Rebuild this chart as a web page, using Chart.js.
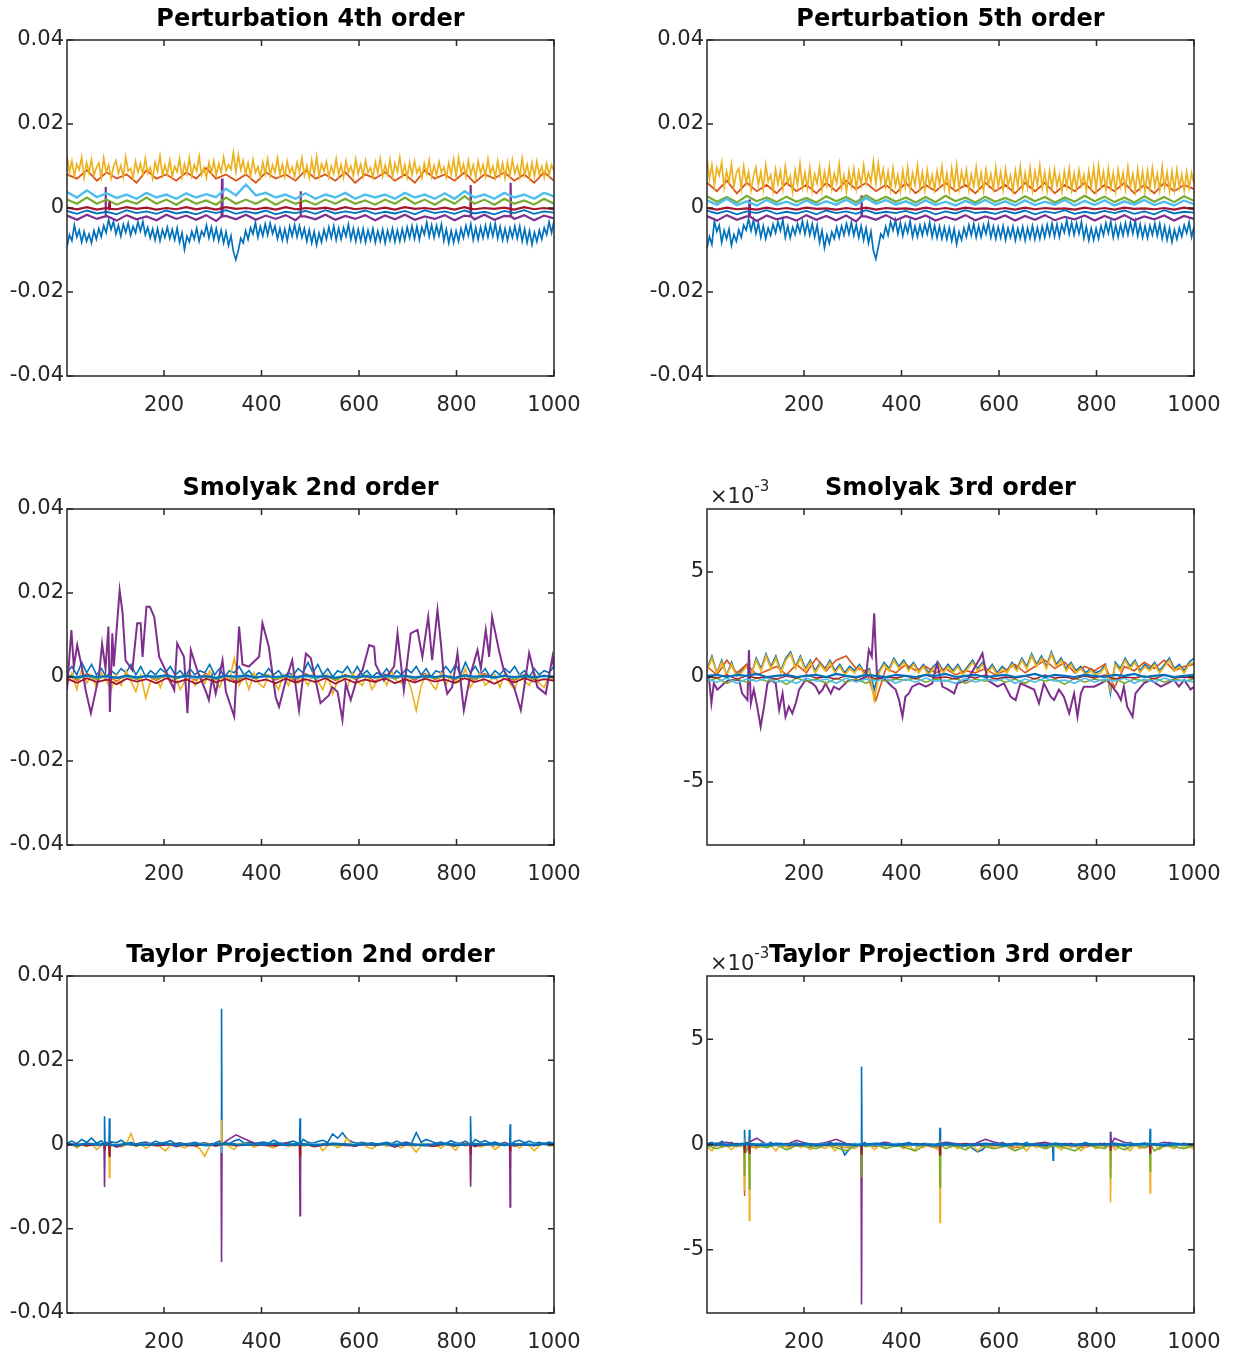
<!DOCTYPE html>
<html><head><meta charset="utf-8">
<script src="https://cdn.jsdelivr.net/npm/chart.js@4"></script>
<style>
html,body{margin:0;padding:0;background:#fff;overflow:hidden;width:1244px;height:1355px;position:relative}
canvas{position:absolute}
</style></head><body>
<script>
// ---- All series values below are in units of 1e-3 ----
const xTicks = [200, 400, 600, 800, 1000];
const yTicksWide = [-0.04, -0.02, 0, 0.02, 0.04];
const yTicksMilli = [-0.005, 0, 0.005];
const titles = ["Perturbation 4th order","Perturbation 5th order","Smolyak 2nd order","Smolyak 3rd order","Taylor Projection 2nd order","Taylor Projection 3rd order"];

// Perturbation 4th order
const p4Blue = [-9.2,-6.4,-7.8,-4.1,-6.9,-5.3,-8.1,-5.6,-7.9,-6.2, -8.3,-5.4,-7.4,-4.9,-6.8,-4.2,-5.9,-2.8,-5.1,-3.2, -6.2,-4.1,-6.7,-3.9,-5.8,-3.6,-6.5,-4.4,-5.9,-3.3, -5.5,-3.2,-6.4,-4.6,-7.1,-5.0,-7.6,-4.9,-7.8,-5.2, -7.0,-4.6,-7.3,-5.1,-7.6,-4.8,-8.2,-5.9,-9.9,-6.7, -8.1,-5.6,-7.4,-4.8,-7.9,-5.5,-6.6,-4.1,-7.1,-4.6, -7.5,-4.9,-7.8,-5.3,-8.3,-5.7,-8.9,-6.6,-10.4,-12.3, -10.1,-7.2,-8.3,-5.4,-7.5,-4.7,-6.2,-3.5,-7.0,-4.4, -6.6,-3.8,-6.4,-3.6,-6.1,-4.3,-7.3,-4.9,-7.6,-5.0, -7.8,-4.4,-6.7,-4.0,-6.9,-4.3,-7.0,-4.9,-7.9,-5.2, -8.3,-5.6,-8.8,-6.0,-8.1,-5.2,-7.4,-4.6,-7.1,-4.3, -7.6,-4.8,-7.4,-4.7,-6.7,-3.9,-7.5,-4.9,-7.9,-5.1, -7.8,-5.0,-8.1,-5.3,-7.6,-4.9,-8.2,-5.5,-7.9,-5.1, -8.3,-5.4,-7.7,-4.9,-8.0,-5.3,-7.9,-5.0,-7.6,-4.6, -7.1,-4.3,-7.3,-4.4,-7.5,-4.6,-6.3,-3.4,-6.8,-4.1, -7.0,-4.2,-6.6,-3.9,-7.8,-5.1,-8.3,-5.4,-8.2,-5.5, -7.9,-4.9,-7.1,-4.2,-6.6,-3.8,-7.6,-4.7,-7.5,-4.6, -7.1,-4.2,-6.9,-4.0,-6.7,-3.7,-7.2,-4.5,-7.6,-4.9, -7.7,-4.8,-7.0,-4.3,-7.2,-4.4,-7.9,-5.0,-8.2,-5.4, -8.7,-5.8,-8.0,-5.3,-7.4,-4.7,-6.3,-3.3,-5.9,-3.1];
const p4Orange = [8,7,9,6.5,8.5,7,8,6,9,7, 8,6.5,8.5,7,9.5,7,8,6.5,8,6, 8.5,7,8,6.5,9,7,8,6.5,8.5,6, 8,7,8.5,6.5,8,6,9,7,8,6.5, 8.5,6,8,7,8.5,6.5,8,6,8.5,6.5];
const p4Yellow = [12.5,8.5,11.2,7.6,10.4,9.1,12.1,7.2,10.8,8.4, 11.5,7.8,9.6,10.7,7.3,11.9,8.6,10.2,7.1,9.8, 11.3,8.2,10.1,7.4,12.2,8.8,9.4,7.2,11.1,8.5, 10.6,7.9,11.8,8.3,9.7,7.0,10.9,8.7,12.4,7.8, 10.2,8.1,11.4,7.5,9.9,8.6,11.7,7.3,10.5,8.2, 11.9,7.7,10.3,8.8,12.3,7.9,9.6,7.2,10.8,8.4, 11.2,7.8,10.6,8.5,12.1,8.9,10.3,9.2,13.2,8.6, 12.6,9.1,11.3,8.2,10.7,7.6,11.5,8.4,9.8,7.3, 10.9,8.1,11.6,7.7,10.2,8.5,12.0,7.9,10.4,7.4, 11.1,8.3,9.7,7.5,10.8,8.6,11.9,7.8,10.1,7.2, 11.4,8.0,12.2,7.6,10.5,8.7,11.0,7.4,9.9,8.2, 11.7,7.9,10.3,7.3,11.2,8.5,10.0,7.7,11.6,8.1, 10.4,7.5,11.3,8.4,9.6,7.2,10.9,8.3,11.8,7.6, 10.2,8.0,11.5,7.4,10.6,8.6,12.1,7.8,10.3,7.3, 10.8,7.9,11.2,8.3,9.7,7.1,10.6,8.2,11.4,7.5, 10.1,7.7,11.0,8.5,9.8,7.3,10.7,8.0,11.6,7.6, 12.0,8.4,10.5,7.5,11.3,7.9,10.2,7.2,11.1,8.3, 10.3,7.6,11.7,8.1,10.0,7.3,11.2,7.8,10.6,7.1, 10.9,7.7,11.5,8.2,10.1,7.4,11.8,7.9,10.4,7.2, 10.7,7.5,11.1,8.0,9.9,7.3,10.6,7.8,10.2,8.9];
const p4Purple = [-1.8,-2.8,-1.6,-2.6,-1.9,-3,-1.7,-2.7,-2,-2.9, -1.6,-2.6,-1.8,-2.8,-1.7,-3.1,-1.9,-2.7,-1.6,-2.8, -1.8,-2.6,-1.7,-2.9,-2,-2.7,-1.6,-2.8,-1.9,-2.6, -1.7,-2.9,-1.8,-2.7,-1.6,-2.8,-2,-2.6,-1.7,-2.9, -1.8,-2.7,-1.6,-2.8,-1.9,-2.6,-1.7,-2.9,-1.8,-2.5];
const p4PurpleSpikeX = [79,80,81, 318,319,320, 479,480,481, 828,829,830, 910,911,912];
const p4PurpleSpikeY = [-2,5,-2, -2,7,-2, -2,4,-2, -2,5.5,-2, -2,6,-2];
const p4Green = [2,1,2.5,1,2,0.8,1.8,1,2.5,1, 2,0.8,2.2,1,1.8,0.8,2.5,1,2,1, 2.2,0.8,2,1,1.8,0.8,2,1,2.2,1, 1.8,0.8,2,1,2.5,1,2,0.8,2.2,1, 2.8,1,2,0.8,2.2,1,1.8,0.8,2.2,1];
const p4LightBlue = [3.8,2.5,4.2,2.6,3.5,2.4,3.2,2.2,3.6,2.5, 3.2,2.2,3.5,2.5,3.3,2.6,4.6,3,5.6,3, 3.6,2.5,3.2,2.2,3.5,2.2,3.2,2.5,3.6,2.2, 3.2,2.5,3.2,2.2,3.6,2.5,3.2,2.2,3.5,2.2, 4,2.5,3.2,2.2,3.6,2.5,3.2,2.2,3.6,2.8];
const p4DarkRed = [0.1,-0.3,0.2,-0.4,0,-0.3,0.2,-0.2,0.1,-0.4, 0,-0.3,0.2,-0.3,0.1,-0.4,0.2,-0.2,0,-0.3, 0.1,-0.4,0.2,-0.3,0,-0.2,0.1,-0.4,0.2,-0.3, 0,-0.3,0.1,-0.4,0.2,-0.2,0,-0.3,0.1,-0.4, 0.2,-0.3,0,-0.2,0.1,-0.4,0.2,-0.3,0,-0.3];
const p4DarkRedSpikeX = [87,88,89, 479,480,481, 828,829,830];
const p4DarkRedSpikeY = [-0.2,1.5,-0.2, -0.2,1.5,-0.2, -0.2,1.2,-0.2];
const p4Blue8 = [-0.7,-1.4,-0.6,-1.3,-0.9,-1.5,-0.5,-1.2,-0.8,-1.4, -0.6,-1.3,-0.9,-1.5,-0.7,-1.2,-0.5,-1.4,-0.8,-1.3, -0.6,-1.5,-0.9,-1.2,-0.7,-1.4,-0.5,-1.3,-0.8,-1.2, -0.6,-1.4,-0.9,-1.3,-0.7,-1.5,-0.5,-1.2,-0.8,-1.4, -0.6,-1.3,-0.9,-1.5,-0.7,-1.2,-0.5,-1.4,-0.8,-1.1];

// Perturbation 5th order
const p5Blue = [-9.6,-6.8,-8.7,-3.2,-5.6,-4.1,-8.2,-5.3,-7.3,-5.0, -8.9,-6.3,-7.9,-5.2,-7.0,-4.1,-5.3,-2.6,-5.4,-2.9, -6.1,-3.6,-7.0,-4.3,-7.3,-4.8,-6.5,-3.9,-5.9,-3.3, -5.4,-2.8,-7.0,-4.3,-7.1,-4.6,-6.3,-3.8,-5.8,-3.1, -6.2,-3.5,-6.4,-3.8,-6.9,-4.1,-8.2,-5.4,-9.5,-6.4, -8.4,-5.7,-7.3,-4.6,-7.0,-4.3,-6.4,-3.7,-6.2,-3.4, -6.5,-4.0,-7.0,-4.3,-7.6,-4.8,-8.3,-5.6,-10.2,-12.1, -9.3,-6.2,-7.1,-4.4,-6.5,-3.3,-5.3,-2.9,-6.1,-3.5, -6.6,-3.9,-5.9,-3.1,-6.9,-4.3,-6.8,-4.1,-6.5,-3.9, -6.2,-3.4,-6.9,-4.2,-7.1,-4.4,-7.3,-4.6,-7.4,-4.7, -7.8,-5.0,-8.6,-5.7,-7.6,-4.8,-6.9,-4.1,-6.5,-3.8, -7.0,-4.3,-6.9,-4.1,-6.2,-3.5,-7.0,-4.4,-7.3,-4.5, -7.1,-4.3,-7.6,-4.8,-7.0,-4.4,-7.7,-4.9,-7.2,-4.5, -7.7,-4.8,-7.2,-4.3,-7.4,-4.7,-7.3,-4.4,-7.0,-4.0, -6.6,-3.7,-6.8,-3.9,-6.9,-4.0,-5.8,-2.9,-6.2,-3.5, -6.4,-3.6,-6.1,-3.3,-7.2,-4.5,-7.7,-4.8,-7.6,-4.9, -7.3,-4.3,-6.5,-3.6,-6.0,-3.2,-7.0,-4.1,-6.9,-4.0, -6.5,-3.6,-6.3,-3.4,-6.1,-3.1,-6.6,-3.9,-7.0,-4.3, -7.1,-4.2,-6.4,-3.7,-6.6,-3.8,-7.3,-4.4,-7.6,-4.8, -8.1,-5.2,-7.4,-4.7,-6.8,-4.1,-6.0,-3.4,-6.9,-4.5];
const p5Orange = [6,4,6.5,3.5,6,4,5.5,3.5,6,4, 5.5,3.5,6,4,6.5,4.5,6,4,5.5,3.5, 6,3.5,5.5,4,6,4,5.5,3.5,6,4, 5.5,3.5,6,4,6,3.5,5.5,4,6,3.5, 5.5,4,6,3.5,5.5,3.5,6,4,5.5,4.5];
const p5Yellow = [11.8,6.9,10.3,5.4,9.6,7.8,10.9,4.9,8.7,6.2, 10.4,5.1,8.3,9.4,4.6,9.9,6.0,8.5,4.2,7.6, 9.7,5.5,8.6,4.4,10.3,6.3,7.9,4.1,9.2,5.7, 8.8,4.5,9.9,5.9,7.6,3.8,8.9,5.6,10.5,5.0, 8.4,4.7,9.6,4.2,8.1,5.8,9.8,4.3,8.6,5.4, 9.9,4.6,8.2,5.9,10.4,4.9,7.8,3.9,8.8,5.3, 9.4,4.6,8.7,5.5,10.2,5.9,8.4,6.2,11.1,5.8, 10.6,6.1,9.2,5.1,8.7,4.4,9.5,5.3,7.9,4.0, 8.9,5.0,9.6,4.5,8.3,5.4,10.1,4.8,8.5,4.2, 9.1,5.2,7.8,4.3,8.8,5.5,9.9,4.7,8.2,4.0, 9.4,4.9,10.2,4.5,8.6,5.6,9.0,4.2,8.0,5.1, 9.7,4.8,8.4,4.1,9.2,5.4,8.1,4.5,9.6,5.0, 8.5,4.3,9.3,5.3,7.7,4.0,8.9,5.2,9.8,4.4, 8.3,4.9,9.5,4.2,8.7,5.5,10.1,4.7,8.4,4.1, 8.8,4.8,9.2,5.2,7.8,3.9,8.7,5.1,9.4,4.3, 8.2,4.6,9.0,5.4,7.9,4.1,8.8,4.9,9.6,4.4, 10.0,5.3,8.6,4.3,9.3,4.8,8.3,4.0,9.1,5.2, 8.4,4.4,9.7,5.0,8.1,4.1,9.2,4.7,8.7,3.9, 8.9,4.6,9.5,5.1,8.2,4.2,9.8,4.8,8.5,4.0, 8.7,4.3,9.1,4.9,8.0,4.1,8.6,4.7,8.3,5.8];
const p5Purple = [-1.9,-3,-1.7,-2.8,-2,-3.1,-1.8,-2.7,-2.1,-3, -1.7,-2.8,-1.9,-2.9,-1.8,-3.2,-2,-2.8,-1.7,-2.9, -1.9,-2.7,-1.8,-3,-2.1,-2.8,-1.7,-2.9,-2,-2.7, -1.8,-3,-1.9,-2.8,-1.7,-2.9,-2.1,-2.7,-1.8,-3, -1.9,-2.8,-1.7,-2.9,-2,-2.7,-1.8,-3,-1.9,-2.6];
const p5PurpleSpikeX = [87,88,89, 317,318,319];
const p5PurpleSpikeY = [-2,2,-2, -2,3,-2];
const p5Green = [2.8,1.5,2.6,1.3,2.9,1.6,2.5,1.4,2.7,1.5, 2.4,1.3,2.8,1.6,2.6,1.4,3,1.6,2.7,1.5, 2.5,1.3,2.6,1.4,2.9,1.6,2.5,1.3,2.7,1.5, 2.4,1.4,2.8,1.6,2.6,1.3,2.5,1.5,2.9,1.6, 2.7,1.4,2.5,1.3,2.8,1.5,2.6,1.4,2.8,1.7];
const p5LightBlue = [1.8,0.8,2.2,0.7,1.6,0.6,1.9,0.8,1.5,0.6, 1.8,0.7,1.6,0.8,2,0.7,2.4,1,1.9,0.8, 1.6,0.6,1.8,0.7,1.5,0.6,1.7,0.8,1.9,0.7, 1.6,0.6,1.8,0.7,1.5,0.8,1.9,0.6,1.7,0.7, 1.8,0.6,1.6,0.8,1.9,0.7,1.5,0.6,1.8,0.9];
const p5DarkRed = [0,-0.4,0.1,-0.3,-0.1,-0.4,0.1,-0.3,0,-0.4, 0.1,-0.2,-0.1,-0.4,0,-0.3,0.1,-0.4,0,-0.2, -0.1,-0.4,0.1,-0.3,0,-0.4,0.1,-0.2,-0.1,-0.3, 0,-0.4,0.1,-0.3,0,-0.2,-0.1,-0.4,0.1,-0.3, 0,-0.4,0.1,-0.2,-0.1,-0.3,0,-0.4,0.1,-0.3];
const p5Blue8 = [-0.6,-1.3,-0.7,-1.5,-0.8,-1.2,-0.5,-1.4,-0.9,-1.3, -0.7,-1.5,-0.6,-1.2,-0.8,-1.4,-0.5,-1.3,-0.9,-1.2, -0.7,-1.4,-0.6,-1.5,-0.8,-1.3,-0.5,-1.2,-0.9,-1.4, -0.7,-1.3,-0.6,-1.5,-0.8,-1.2,-0.5,-1.4,-0.9,-1.3, -0.7,-1.2,-0.6,-1.4,-0.8,-1.5,-0.5,-1.3,-0.9,-1.1];

// Smolyak 2nd order
const s2Blue = [1,2.5,0.5,3.5,1,3,0.5,2,0,1.5, 0.5,2,1,3,0.5,2.5,0,1.5,0.5,2, 1,2.5,0.5,1.5,0,2,0.5,1.5,1,3, 0.5,2,0,1.5,1,2.5,0.5,1.5,0,1, 0.5,2,0.5,1.5,0,1,0.5,2,1,3.5, 1,3,0.5,2,0,1.5,1,2.5,0.5,2.5, 0.5,1.5,0,1,0.5,2,0,1.5,0.5,2, 1,2.5,0.5,2,0,1.5,1,2.5,1,3, 0.5,3.5,1,2.5,0.5,2,0,1.5,0.5,2, 1,2.5,0.5,1.5,0,2,0.5,1.5,1,2.5];
const s2Orange = [0.5,-0.8,0.8,-0.5,0.3,-1,0.6,-0.6,0.4,-0.9, 0.7,-0.4,0.2,-0.8,0.9,-0.6,0.3,-1.1,0.5,-0.5, 0.6,-0.7,0.2,-0.9,0.8,-0.4,0.4,-0.8,0.6,-0.6, 0.3,-1,0.7,-0.5,0.4,-0.8,0.9,-0.6,0.2,-0.7, 0.5,-0.9,0.8,-0.4,0.3,-0.8,0.6,-0.6,0.4,-0.5];
const s2Yellow = [-2,1,-3,2,-1.5,0.5,-2.5,1,-1,-3, 0.5,-2,1.5,-1,-3.5,0.5,-5,-1,0,-2.5, 1,-1.5,0.5,-3,-1,1,-2,0.5,-1.5,1.5, -1,-2.5,0.5,-1,4.5,-2,0.5,-3,1,-1.5, -2.5,0.5,-1,-3,0.5,-2,1,-1.5,0,-2, 1,-1,-3,0.5,-4,-1,0.5,-2.5,1,-1, -2,0.5,-3,-1,0.5,-2,1.5,-1,-1.5,0.5, -3,-8,-2,0.5,-1.5,-3,1,-2,0.5,-1.5, -1,2,-2.5,-0.5,1,-2,-1,0.5,-2.5,1, -1.5,-3,0.5,-1,-2,1,-1.5,-2.5,0.5,-1];
const s2PurpleX = [1,10,15,22,32,39,50,60,67,73,80,86,89,94,97,109,115,121,135,145,152,156,164,171,180,190,203,221,227,241,248,255,268,286,292,299,306,320,327,344,354,361,374,395,402,415,429,436,450,463,477,491,501,521,538,545,556,566,573,583,597,607,621,631,634,651,672,679,692,706,720,730,742,750,761,768,774,781,791,802,815,829,843,850,860,867,873,887,897,918,932,949,966,983,997,1000];
const s2PurpleY = [-3.1,11.2,2.5,7.6,2,-3,-8.6,-3.3,0.8,7.9,2,12,-8.3,10.4,2.5,20.7,15.2,4,1.6,12.8,12.8,4.8,16.7,16.7,14.3,4.8,1.6,-3.1,8,4.8,-8.6,6.4,1.6,-3.5,-5.5,0,-4,4,-3.5,-9.4,12,3,2.5,4.8,12.8,7.2,-4.8,-7.1,-0.8,4,-7.9,5.6,4.5,-6.2,-4.4,-2.4,-3.5,-10.2,-1.6,-5.5,0,1.6,7.6,7.2,3,-0.8,2.5,10.4,-3.1,10.4,11.2,4.8,14.3,4,16,8,0,-4,-2.4,5.7,-7.9,0.8,6.4,2,11.2,4.8,14.3,6.4,1.6,-2.4,-7.9,5.7,-2.4,-4,4.8,2];
const s2Green = [0.3,-0.4,0.2,-0.6,0.4,-0.3,0.1,-0.5,0.3,-0.4, 0.2,-0.3,0.5,-0.2,0.1,-0.6,0.3,-0.4,0.2,-0.3, 0.4,-0.5,0.1,-0.3,0.3,-0.4,0.2,-0.6,0.1,-0.3, 0.4,-0.2,0.2,-0.5,0.3,-0.4,0.1,-0.3,0.2,-0.5, 0.3,-0.4,0.2,-0.3,0.4,-0.5,0.1,-0.4,0.3,-0.2];
const s2LightBlue = [0.2,-0.2,0.3,-0.1,0.2,-0.3,0.1,-0.2,0.3,-0.1, 0.2,-0.2,0.1,-0.3,0.2,-0.1,0.3,-0.2,0.1,-0.2, 0.2,-0.1,0.3,-0.2,0.1,-0.3,0.2,-0.1,0.2,-0.2, 0.3,-0.1,0.1,-0.2,0.2,-0.3,0.1,-0.1,0.3,-0.2, 0.2,-0.1,0.1,-0.3,0.2,-0.2,0.3,-0.1,0.1,-0.2];
const s2DarkRed = [-0.4,-1.4,-0.3,-1.2,-0.6,-1.7,-0.4,-1.1,-0.5,-1.5, -0.3,-1.3,-0.6,-1.6,-0.4,-1.2,-0.5,-1.4,-0.3,-1.1, -0.6,-1.5,-0.4,-1.3,-0.5,-1.2,-0.3,-1.6,-0.4,-1.4, -0.6,-1.2,-0.3,-1.5,-0.5,-1.3,-0.4,-1.1,-0.6,-1.4, -0.3,-1.2,-0.5,-1.6,-0.4,-1.3,-0.3,-1.1,-0.5,-0.9];
const s2Blue8 = [0.3,-0.1,0.4,0,0.2,-0.2,0.3,-0.1,0.2,0.1, 0.4,-0.1,0.3,0,0.2,-0.2,0.3,0.1,0.4,-0.1, 0.2,0,0.3,-0.1,0.4,0.1,0.2,-0.2,0.3,0, 0.2,-0.1,0.4,0.1,0.3,-0.1,0.2,0,0.3,-0.2, 0.4,0.1,0.2,-0.1,0.3,0,0.2,-0.1,0.3,0.1];

// Smolyak 3rd order
const s3Blue = [0.4,1,0.2,0.8,0.1,0.7,0.05,0.3,0.6,0.1, 0.9,0.4,1.1,0.5,1,0.3,0.9,1.2,0.5,1, 0.4,0.8,0.3,0.7,0.4,0.8,0.3,0.6,0.2,0.5, 0.3,0.6,0.2,0.4,-0.6,0.3,0.7,0.4,0.9,0.5, 0.8,0.4,0.7,0.3,0.6,0.2,0.5,0.7,0.3,0.6, 0.3,0.6,0.2,0.5,0.8,0.4,0.7,0.3,0.6,0.2, 0.5,0.3,0.7,0.4,0.9,0.5,1.1,0.6,1,0.5, 1.2,0.6,0.9,0.4,0.7,0.3,0.5,0.2,0.4,0.2, 0.3,0.6,-0.8,0.7,0.4,0.9,0.5,0.8,0.3,0.6, 0.4,0.7,0.3,0.6,0.9,0.4,0.6,0.3,0.7,0.9];
const s3Orange = [0.5,0.1,0.8,0.2,0.6,0.1,0.3,0.5,0.1,0.6, 0.2,0.9,0.3,0.8,1,0.4,0.3,-1.1,0.4,0.2, 0.6,0.3,0.5,0.2,0.4,0.1,0.3,0.2,0.4,0.1, 0.3,0.6,0.2,0.5,0.8,0.4,0.7,0.2,0.5,0.3, 0.6,-0.5,0.5,0.3,0.7,0.4,0.8,0.3,0.5,0.6];
const s3Yellow = [0.3,0.9,0.2,0.7,0.1,0.6,0.05,0.2,0.5,0.1, 0.8,0.3,1,0.4,0.9,0.2,0.8,1.1,0.4,0.9, 0.3,0.7,0.2,0.6,0.3,0.7,0.2,0.5,0.1,0.4, 0.2,0.5,0.1,0.3,-1.1,0.2,0.6,0.3,0.8,0.4, 0.7,0.3,0.6,0.2,0.5,0.1,0.4,0.6,0.2,0.5, 0.2,0.5,0.1,0.4,0.7,0.3,0.6,0.2,0.5,0.1, 0.4,0.2,0.6,0.3,0.8,0.4,1,0.5,0.9,0.4, 1.1,0.5,0.8,0.3,0.6,0.2,0.4,0.1,0.3,0.1, 0.2,0.5,-0.6,0.6,0.3,0.8,0.4,0.7,0.2,0.5, 0.3,0.6,0.2,0.5,0.8,0.3,0.5,0.2,0.6,0.7];
const s3PurpleX = [1,5,10,15,22,29,36,46,67,73,84,87,91,97,104,111,118,125,132,142,149,156,162,169,176,183,190,203,217,224,231,238,244,255,261,272,285,292,313,327,333,339,344,347,350,367,381,388,395,402,408,415,422,436,450,463,473,484,496,508,515,535,559,566,576,597,610,624,634,644,672,682,692,706,713,723,733,744,754,761,768,774,795,809,822,843,850,856,863,874,880,897,911,932,945,959,969,980,993,1000];
const s3PurpleY = [0,0,-1.25,-0.3,-0.6,-0.46,-0.3,-0.14,-0.14,-0.78,-1.1,1.29,-1.25,-0.6,-1.41,-2.37,-1.41,-0.3,-0.14,-0.3,-1.57,-0.78,-1.89,-1.41,-1.73,-1.25,-0.6,-0.14,-0.3,-0.46,-0.78,-0.6,-0.3,-0.78,-0.46,-0.6,-0.3,-0.14,-0.14,0,1.29,0.97,3.03,1.29,0,-0.14,-0.46,-0.6,-1.1,-1.89,-0.94,-0.78,-0.46,-0.3,-0.46,-0.3,0.65,-0.46,-0.6,-0.78,-0.3,-0.14,0.81,1.13,-0.14,-0.46,-0.3,-0.94,-1.1,-0.3,-0.6,-1.25,-0.3,-0.94,-1.1,-0.6,-0.94,-1.73,-0.78,-1.89,-0.78,-0.46,-0.46,-0.3,-0.14,-0.78,-1.1,-0.46,-1.41,-1.89,-0.78,-0.3,-0.14,-0.46,-0.3,-0.14,-0.46,-0.14,-0.6,-0.46];
const s3Green = [-0.2,-0.05,-0.3,-0.1,-0.25,-0.05,-0.2,-0.1,-0.35,-0.05, -0.2,-0.1,-0.3,-0.05,-0.25,-0.1,-0.3,-0.05,-0.2,-0.1, -0.15,-0.05,-0.25,-0.1,-0.2,-0.05,-0.3,-0.1,-0.2,-0.05, -0.25,-0.1,-0.3,-0.05,-0.2,-0.1,-0.35,-0.05,-0.25,-0.1, -0.2,-0.05,-0.3,-0.1,-0.2,-0.05,-0.25,-0.1,-0.2,-0.1];
const s3LightBlue = [-0.1,-0.25,-0.05,-0.3,-0.1,-0.2,-0.05,-0.25,-0.15,-0.3, -0.05,-0.2,-0.1,-0.3,-0.05,-0.25,-0.1,-0.2,-0.05,-0.3, -0.1,-0.25,-0.05,-0.2,-0.15,-0.3,-0.05,-0.25,-0.1,-0.2, -0.05,-0.3,-0.1,-0.25,-0.05,-0.2,-0.15,-0.3,-0.05,-0.25, -0.1,-0.2,-0.05,-0.3,-0.1,-0.25,-0.05,-0.2,-0.15,-0.25];
const s3DarkRed = [0.05,-0.05,0.1,-0.1,0.05,-0.05,0,-0.1,0.05,-0.05, 0.1,-0.05,0,-0.1,0.05,-0.05,0.1,-0.1,0,-0.05, 0.05,-0.1,0.1,-0.05,0,-0.1,0.05,-0.05,0.1,-0.1, 0,-0.05,0.05,-0.1,0.1,-0.05,0,-0.1,0.05,-0.05, 0.1,-0.1,0,-0.05,0.05,-0.1,0.1,-0.05,0,-0.05];
const s3Blue8 = [0.05,0.1,0,0.1,0.05,0.15,0,0.05,0.1,0, 0.05,0.1,0,0.15,0.05,0,0.1,0.05,0,0.1, 0.05,0,0.1,0.05,0.15,0,0.05,0.1,0,0.05, 0.1,0,0.05,0.15,0,0.1,0.05,0,0.1,0.05, 0,0.1,0.05,0.15,0,0.05,0.1,0,0.05,0.1];

// Taylor Projection 2nd order
const t2Blue = [0.3,0.8,0.2,1.2,0.5,1.5,0.3,0.9,0.2,0.6, 0.4,1,0.2,0.5,0.1,0.4,0.6,0.2,0.8,0.3, 0.5,0.9,0.2,0.4,0.1,0.3,0.5,0.2,0.4,0.1, 0.3,0.8,0.4,0.2,0.9,1.2,0.3,0.5,0.2,0.4, 0.6,0.3,1,0.4,0.2,0.5,0.8,0.3,1.2,0.5, 0.3,0.7,1,0.5,2.5,1.5,2.8,1.2,0.6,0.3, 0.5,0.2,0.4,0.1,0.3,0.5,0.2,0.8,0.3,0.6, 0.2,2.8,0.5,1.2,0.8,0.3,0.6,0.2,0.9,0.4, 0.3,0.8,0.4,1.2,0.5,0.9,0.3,0.6,0.2,0.5, 0.3,0.7,1,0.4,0.8,0.3,0.5,0.2,0.6,0.3];
const t2BlueSpikeX = [77,78,79, 87,88,89, 317,318,319, 478,479,480, 828,829,830, 909,910,911];
const t2BlueSpikeY = [0,6.7,0, 0,6.2,0, 0,32.2,0, 0,6.2,0, 0,6.7,0, 0,4.8,0];
const t2Orange = [0.1,-0.2,0.2,-0.1,0,-0.3,0.1,-0.2,0.2,-0.1, 0,-0.2,0.1,-0.3,0.2,-0.1,0,-0.2,0.1,-0.1, 0.2,-0.3,0,-0.1,0.1,-0.2,0.2,-0.1,0,-0.3, 0.1,-0.2,0.2,-0.1,0,-0.2,0.1,-0.3,0.2,-0.1, 0,-0.2,0.1,-0.1,0.2,-0.3,0,-0.2,0.1,-0.1];
const t2Yellow = [-0.3,0.2,-0.8,0,-0.5,0.3,-1.2,-0.2,0.1,-0.4, 0.2,-0.6,-0.1,2.6,-0.5,0.1,-0.9,-0.2,0.3,-0.6, -1.5,-0.2,0.1,-0.4,-0.8,0.2,-0.3,-1,-2.8,-0.4, 0.1,-0.2,0.3,-0.5,-1.2,0.2,-0.3,0.1,-0.6,-0.2, 0.1,-0.4,-0.8,-0.1,0.2,-0.5,-0.2,0.1,-0.4,-0.1, -0.6,0.2,-1.5,-0.3,0.4,-0.8,-0.2,1.5,-0.4,-0.1, 0.2,-0.6,-1,-0.2,0.1,-0.5,0.3,-0.3,-0.8,0.1, -0.4,-1.8,-0.2,0.2,-0.5,-0.1,-0.9,0.1,-0.3,-1.4, 0.2,-0.4,-0.1,0.3,-0.6,-0.2,0.1,-1.2,-0.3,0.2, -0.5,-0.1,-0.8,0.1,-0.3,-1.5,-0.2,0.3,-0.4,-0.1];
const t2YellowSpikeX = [87,88,89, 317,318,319, 478,479,480, 828,829,830, 909,910,911];
const t2YellowSpikeY = [0,-7.8,0, 0,5.9,0, 0,-6.3,0, 0,-8.7,0, 0,-5.1,0];
const t2Purple = [0.2,-0.4,0.3,-0.2,0.5,-0.6,0.2,-0.3,0.4,-0.2, 0.3,-0.5,0.2,-0.3,0.1,-0.4,0.8,2.3,1.2,0.2, 0.2,-0.3,0.4,-0.2,0.1,-0.5,0.3,-0.2,0.2,-0.4, 0.3,-0.2,0.1,-0.6,0.4,-0.3,0.2,-0.2,0.1,-0.4, 0.3,-0.5,0.2,-0.3,0.4,-0.2,0.1,-0.3,0.2,-0.2];
const t2PurpleSpikeX = [77,78,79, 317,318,319, 478,479,480, 828,829,830, 909,910,911];
const t2PurpleSpikeY = [0,-10.1,0, 0,-27.9,0, 0,-16.9,0, 0,-10,0, 0,-14.8,0];
const t2Green = [0.1,-0.3,0,-0.2,0.2,-0.1,0,-0.3,0.1,-0.2, 0.2,-0.1,0,-0.2,0.1,-0.3,0,-0.1,0.2,-0.2, 0.1,-0.3,0,-0.1,0.2,-0.2,0.1,-0.3,0,-0.1, 0.2,-0.2,0,-0.3,0.1,-0.1,0.2,-0.2,0,-0.3, 0.1,-0.1,0.2,-0.2,0,-0.3,0.1,-0.1,0.2,-0.2];
const t2GreenSpikeX = [87,88,89];
const t2GreenSpikeY = [0,-2.5,0];
const t2LightBlue = [0.1,-0.1,0.2,0,-0.2,0.1,0,-0.1,0.2,-0.1, 0,0.1,-0.2,0.1,0,-0.1,0.2,0,-0.1,0.1, 0,-0.2,0.1,0,-0.1,0.2,-0.1,0,0.1,-0.2, 0.1,0,-0.1,0.2,0,-0.1,0.1,-0.2,0,0.1, -0.1,0.2,0,-0.1,0.1,-0.2,0,0.1,-0.1,0];
const t2LightBlueSpikeX = [317,318,319];
const t2LightBlueSpikeY = [0,-2,0];
const t2DarkRed = [-0.2,0.1,-0.3,0,-0.2,-0.4,0.1,-0.2,0,-0.3, -0.1,0.1,-0.2,-0.3,0,-0.2,0.1,-0.3,-0.1,0, -0.2,-0.3,0.1,-0.2,0,-0.4,-0.1,0.1,-0.2,-0.3, 0,-0.2,0.1,-0.3,-0.1,0,-0.2,-0.4,0.1,-0.2, 0,-0.3,-0.1,0.1,-0.2,-0.3,0,-0.2,0.1,-0.2];
const t2DarkRedSpikeX = [77,78,79, 87,88,89, 478,479,480, 828,829,830, 909,910,911];
const t2DarkRedSpikeY = [0,-1.5,0, 0,-2.8,0, 0,-2.7,0, 0,-2.3,0, 0,-1.5,0];
const t2Blue8 = [0.1,-0.1,0.2,0,0.1,-0.2,0.2,0,-0.1,0.1, 0.2,-0.1,0,0.1,-0.2,0.1,0.2,0,-0.1,0.1, 0,0.2,-0.1,0.1,0,-0.2,0.1,0.2,0,-0.1, 0.1,0,0.2,-0.1,0.1,0,-0.2,0.1,0.2,0, -0.1,0.1,0,0.2,-0.1,0.1,0,-0.1,0.2,0];

// Taylor Projection 3rd order
const t3Blue = [0.05,0.1,-0.05,0.15,0,0.1,-0.05,0.05,0.1,-0.1, -0.15,0.05,0,0.1,-0.05,0.05,0,-0.05,0.1,0, 0.05,-0.1,0,0.05,-0.05,0.1,0,0.05,-0.5,-0.2, 0.05,0,0.1,-0.05,0,0.05,0.1,-0.05,0,0.05, -0.05,0.1,0,-0.1,0.05,0,-0.1,0.05,0,0.1, -0.05,0,-0.1,0.05,-0.2,-0.35,-0.25,0,0.05,-0.05, 0.1,0,-0.05,0.05,0,0.1,-0.05,0,0.05,-0.05, 0,0.05,-0.1,0,0.05,-0.05,0,0.1,-0.05,0, 0.05,-0.1,0,0.05,0,-0.05,0.1,0,-0.1,0.05, 0,0.05,-0.05,0,0.1,-0.05,0,0.05,-0.05,0];
const t3BlueSpikeX = [77,78,79, 87,88,89, 317,318,319, 478,479,480, 710,711,712, 828,829,830, 909,910,911];
const t3BlueSpikeY = [0,0.7,0, 0,0.7,0, 0,3.7,0, 0,0.8,0, 0,-0.75,0, 0,0.6,0, 0,0.75,0];
const t3Orange = [-0.05,0,-0.1,0,-0.05,-0.15,0,-0.05,-0.1,0, -0.05,-0.1,0,-0.05,-0.15,0,-0.05,-0.1,0,-0.05, -0.1,0,-0.05,-0.15,0,-0.1,-0.05,0,-0.1,-0.05, 0,-0.15,-0.05,0,-0.1,-0.05,0,-0.1,-0.15,0, -0.05,-0.1,0,-0.05,-0.15,0,-0.1,-0.05,0,-0.1];
const t3OrangeSpikeX = [77,78,79];
const t3OrangeSpikeY = [0,-2.45,0];
const t3Yellow = [-0.1,-0.3,0.05,-0.15,-0.05,-0.25,0,-0.1,-0.3,-0.05, -0.2,0,-0.15,-0.05,-0.3,0,-0.1,-0.2,0.05,-0.15, -0.05,-0.25,0,-0.1,-0.2,-0.05,-0.3,0,-0.15,-0.05, -0.2,-0.05,-0.1,0,-0.25,-0.05,-0.15,0,-0.1,-0.05, -0.2,0,-0.3,-0.05,-0.15,0,-0.1,-0.25,0.05,-0.1, -0.05,-0.2,0,-0.15,-0.05,-0.3,-0.1,0,-0.2,-0.05, -0.15,0,-0.25,-0.05,-0.1,-0.3,0,-0.15,-0.05,-0.2, 0,-0.1,-0.25,-0.05,-0.15,0,-0.3,-0.1,0,-0.2, -0.05,-0.15,0,-0.25,-0.05,-0.1,-0.3,0,-0.2,-0.05, -0.15,0,-0.25,-0.05,-0.1,-0.2,0,-0.15,-0.05,-0.25];
const t3YellowSpikeX = [77,78,79, 87,88,89, 317,318,319, 478,479,480, 828,829,830, 909,910,911];
const t3YellowSpikeY = [0,-2.2,0, 0,-3.6,0, 0,-1.9,0, 0,-3.7,0, 0,-2.75,0, 0,-2.3,0];
const t3Purple = [0,0.05,0.1,0,0.05,0.3,0,0.05,0,0.2, 0.05,0,0.1,0.25,0.05,0,0.05,0,0.1,0, 0.05,0,0.05,0,0.1,0.05,0,0.05,0.25,0.1, 0,0.05,0,0.05,0.1,0,0.05,0,0.05,0, 0.05,0.3,0.1,0,0.05,0,0.1,0.05,0,0.05];
const t3PurpleSpikeX = [317,318,319, 828,829,830];
const t3PurpleSpikeY = [0,-7.6,0, 0,0.6,0];
const t3Green = [-0.05,-0.2,0,-0.1,-0.3,-0.05,-0.15,0,-0.25,-0.05, -0.1,-0.2,0,-0.15,-0.3,-0.05,-0.1,0,-0.2,-0.05, -0.15,-0.3,0,-0.1,-0.2,-0.05,-0.25,0,-0.1,-0.2, -0.05,-0.3,-0.1,0,-0.2,-0.05,-0.15,-0.3,0,-0.1, -0.2,-0.05,-0.25,0,-0.15,-0.3,-0.05,-0.1,-0.2,-0.05];
const t3GreenSpikeX = [77,78,79, 87,88,89, 317,318,319, 478,479,480, 828,829,830, 909,910,911];
const t3GreenSpikeY = [0,-1.5,0, 0,-2.1,0, 0,-1.55,0, 0,-2,0, 0,-1.6,0, 0,-1.25,0];
const t3LightBlue = [0,-0.05,0.05,0,-0.05,0,0.05,-0.05,0,0.05, -0.05,0,0.05,0,-0.05,0.05,0,-0.05,0,0.05, 0,-0.05,0.05,0,-0.05,0,0.05,-0.05,0,0.05, -0.05,0,0.05,0,-0.05,0.05,0,-0.05,0,0.05, 0,-0.05,0.05,0,-0.05,0,0.05,-0.05,0,0];
const t3DarkRed = [0,-0.05,0,0.05,0,-0.05,0,0,0.05,-0.05, 0,0,-0.05,0.05,0,-0.05,0,0.05,0,-0.05, 0,0.05,0,-0.05,0,0,0.05,-0.05,0,0, -0.05,0.05,0,-0.05,0,0.05,0,0,-0.05,0, 0.05,0,-0.05,0,0.05,0,-0.05,0,0.05,0];
const t3DarkRedSpikeX = [77,78,79, 87,88,89, 317,318,319, 478,479,480, 828,829,830, 909,910,911];
const t3DarkRedSpikeY = [0,-0.4,0, 0,-0.4,0, 0,-0.5,0, 0,-0.5,0, 0,-0.3,0, 0,-0.4,0];
const t3Blue8 = [0,0.03,-0.03,0,0.03,0,-0.03,0.03,0,0, 0.03,-0.03,0,0.03,0,-0.03,0,0.03,0,-0.03, 0.03,0,0,-0.03,0.03,0,-0.03,0,0.03,0, -0.03,0.03,0,0,-0.03,0.03,0,-0.03,0.03,0, 0,0.03,-0.03,0,0.03,0,-0.03,0.03,0,0];

// ---- helpers to build the point tables the library needs ----
const C = {blue:'#0072BD', orange:'#D95319', yellow:'#EDB120', purple:'#7E2F8E', green:'#77AC30', lightblue:'#4DBEEE', darkred:'#A2142F'};
function even(vals){ const n = vals.length; return vals.map((v,i)=>({x: 1 + i*999/(n-1), y: v/1000})); }
function xy(xs, ys){ return xs.map((x,i)=>({x: x, y: ys[i]/1000})); }
function spiked(vals, sx, sy){ return even(vals).concat(xy(sx, sy)).sort((a,b)=>a.x-b.x); }

const FONT = '"DejaVu Sans", "Liberation Sans", sans-serif';
const AX = '#262626';

function framePlugin(cfg){
  return {
    id: 'frame',
    afterDraw(chart){
      const ctx = chart.ctx, a = chart.chartArea, xs = chart.scales.x, ys = chart.scales.y;
      ctx.save();
      ctx.strokeStyle = AX; ctx.lineWidth = 1.5;
      ctx.strokeRect(a.left, a.top, a.right - a.left, a.bottom - a.top);
      const tl = 6;
      ctx.beginPath();
      xs.ticks.forEach(t => { const px = xs.getPixelForValue(t.value);
        ctx.moveTo(px, a.bottom); ctx.lineTo(px, a.bottom - tl);
        ctx.moveTo(px, a.top); ctx.lineTo(px, a.top + tl); });
      ys.ticks.forEach(t => { const py = ys.getPixelForValue(t.value);
        ctx.moveTo(a.left, py); ctx.lineTo(a.left + tl, py);
        ctx.moveTo(a.right, py); ctx.lineTo(a.right - tl, py); });
      ctx.stroke();
      ctx.fillStyle = '#000';
      ctx.font = 'bold 24px ' + FONT;
      ctx.textAlign = 'center'; ctx.textBaseline = 'alphabetic';
      ctx.fillText(cfg.title, (a.left + a.right)/2, a.top - 14);
      if (cfg.milli) {
        ctx.fillStyle = AX;
        ctx.textAlign = 'left';
        ctx.font = '21px ' + FONT;
        const base = '\u00D710';
        ctx.fillText(base, a.left + 3, a.top - 6);
        const w = ctx.measureText(base).width;
        ctx.font = '15px ' + FONT;
        ctx.fillText('-3', a.left + 3 + w, a.top - 18);
      }
      ctx.restore();
    }
  };
}

function panel(cfg){
  const W = 620, H = 420;
  const cv = document.createElement('canvas');
  cv.width = W; cv.height = H;
  cv.style.left = (cfg.left - 67) + 'px'; cv.style.top = (cfg.top - 40) + 'px';
  cv.style.width = W + 'px'; cv.style.height = H + 'px';
  document.body.appendChild(cv);
  const plotW = cfg.right - cfg.left, plotH = cfg.bottom - cfg.top;
  const sets = cfg.series.map(s => ({data: s.data, borderColor: s.color, borderWidth: s.w || 1.4,
    pointRadius: 0, tension: 0, fill: false}));
  sets.reverse(); // later series drawn on top, as in the original
  const tickFont = {family: FONT, size: 21};
  new Chart(cv, {
    type: 'line',
    data: {datasets: sets},
    options: {
      responsive: false, animation: false, devicePixelRatio: 1, events: [],
      layout: {padding: {left: 0, top: 40, right: W - 67 - plotW, bottom: 0}},
      plugins: {legend: {display: false}, tooltip: {enabled: false}, title: {display: false}},
      scales: {
        x: {type: 'linear', min: 1, max: 1000,
            afterBuildTicks: s => { s.ticks = xTicks.map(v => ({value: v})); },
            afterFit: s => { s.height = H - 40 - plotH; },
            grid: {display: false, drawTicks: false}, border: {display: false},
            ticks: {font: tickFont, color: AX, padding: 17, maxRotation: 0, autoSkip: false, callback: v => String(v)}},
        y: {type: 'linear', min: cfg.ymin, max: cfg.ymax,
            afterBuildTicks: s => { s.ticks = cfg.yTicks.map(v => ({value: v})); },
            afterFit: s => { s.width = 67; },
            grid: {display: false, drawTicks: false}, border: {display: false},
            ticks: {font: tickFont, color: AX, padding: 3, autoSkip: false, callback: cfg.yFmt}}
      }
    },
    plugins: [framePlugin(cfg)]
  });
}

const fmtWide = v => (Math.abs(v) < 1e-12 ? '0' : v.toFixed(2));
const fmtMilli = v => String(Math.round(v * 1000));

panel({title: titles[0], left: 67, right: 554, top: 40, bottom: 376, ymin: -0.04, ymax: 0.04, yTicks: yTicksWide, yFmt: fmtWide,
  series: [
    {data: even(p4Blue), color: C.blue, w: 1.7},
    {data: even(p4Orange), color: C.orange, w: 1.8},
    {data: even(p4Yellow), color: C.yellow, w: 1.7},
    {data: spiked(p4Purple, p4PurpleSpikeX, p4PurpleSpikeY), color: C.purple, w: 2.2},
    {data: even(p4Green), color: C.green, w: 2.2},
    {data: even(p4LightBlue), color: C.lightblue, w: 2.4},
    {data: spiked(p4DarkRed, p4DarkRedSpikeX, p4DarkRedSpikeY), color: C.darkred, w: 2.2},
    {data: even(p4Blue8), color: C.blue, w: 1.8}
  ]});
panel({title: titles[1], left: 707, right: 1194, top: 40, bottom: 376, ymin: -0.04, ymax: 0.04, yTicks: yTicksWide, yFmt: fmtWide,
  series: [
    {data: even(p5Blue), color: C.blue, w: 1.7},
    {data: even(p5Orange), color: C.orange, w: 1.8},
    {data: even(p5Yellow), color: C.yellow, w: 1.7},
    {data: spiked(p5Purple, p5PurpleSpikeX, p5PurpleSpikeY), color: C.purple, w: 2.2},
    {data: even(p5Green), color: C.green, w: 2.2},
    {data: even(p5LightBlue), color: C.lightblue, w: 2.4},
    {data: even(p5DarkRed), color: C.darkred, w: 2.2},
    {data: even(p5Blue8), color: C.blue, w: 1.8}
  ]});
panel({title: titles[2], left: 67, right: 554, top: 509, bottom: 845, ymin: -0.04, ymax: 0.04, yTicks: yTicksWide, yFmt: fmtWide,
  series: [
    {data: even(s2Blue), color: C.blue, w: 1.6},
    {data: even(s2Orange), color: C.orange},
    {data: even(s2Yellow), color: C.yellow, w: 1.6},
    {data: xy(s2PurpleX, s2PurpleY), color: C.purple, w: 2},
    {data: even(s2Green), color: C.green},
    {data: even(s2LightBlue), color: C.lightblue},
    {data: even(s2DarkRed), color: C.darkred, w: 1.8},
    {data: even(s2Blue8), color: C.blue, w: 2.2}
  ]});
panel({title: titles[3], left: 707, right: 1194, top: 509, bottom: 845, ymin: -0.008, ymax: 0.008, yTicks: yTicksMilli, yFmt: fmtMilli, milli: true,
  series: [
    {data: even(s3Blue), color: C.blue, w: 1.6},
    {data: even(s3Orange), color: C.orange, w: 1.6},
    {data: even(s3Yellow), color: C.yellow, w: 1.8},
    {data: xy(s3PurpleX, s3PurpleY), color: C.purple, w: 2},
    {data: even(s3Green), color: C.green, w: 1.6},
    {data: even(s3LightBlue), color: C.lightblue, w: 1.6},
    {data: even(s3DarkRed), color: C.darkred},
    {data: even(s3Blue8), color: C.blue, w: 2.2}
  ]});
panel({title: titles[4], left: 67, right: 554, top: 976, bottom: 1313, ymin: -0.04, ymax: 0.04, yTicks: yTicksWide, yFmt: fmtWide,
  series: [
    {data: spiked(t2Blue, t2BlueSpikeX, t2BlueSpikeY), color: C.blue, w: 1.6},
    {data: even(t2Orange), color: C.orange},
    {data: spiked(t2Yellow, t2YellowSpikeX, t2YellowSpikeY), color: C.yellow, w: 1.6},
    {data: spiked(t2Purple, t2PurpleSpikeX, t2PurpleSpikeY), color: C.purple, w: 1.6},
    {data: spiked(t2Green, t2GreenSpikeX, t2GreenSpikeY), color: C.green},
    {data: spiked(t2LightBlue, t2LightBlueSpikeX, t2LightBlueSpikeY), color: C.lightblue},
    {data: spiked(t2DarkRed, t2DarkRedSpikeX, t2DarkRedSpikeY), color: C.darkred, w: 1.6},
    {data: even(t2Blue8), color: C.blue, w: 2.4}
  ]});
panel({title: titles[5], left: 707, right: 1194, top: 976, bottom: 1313, ymin: -0.008, ymax: 0.008, yTicks: yTicksMilli, yFmt: fmtMilli, milli: true,
  series: [
    {data: spiked(t3Blue, t3BlueSpikeX, t3BlueSpikeY), color: C.blue, w: 1.6},
    {data: spiked(t3Orange, t3OrangeSpikeX, t3OrangeSpikeY), color: C.orange},
    {data: spiked(t3Yellow, t3YellowSpikeX, t3YellowSpikeY), color: C.yellow, w: 1.6},
    {data: spiked(t3Purple, t3PurpleSpikeX, t3PurpleSpikeY), color: C.purple, w: 1.6},
    {data: spiked(t3Green, t3GreenSpikeX, t3GreenSpikeY), color: C.green, w: 1.6},
    {data: even(t3LightBlue), color: C.lightblue},
    {data: spiked(t3DarkRed, t3DarkRedSpikeX, t3DarkRedSpikeY), color: C.darkred, w: 1.6},
    {data: even(t3Blue8), color: C.blue, w: 2.6}
  ]});
</script>
</body></html>
